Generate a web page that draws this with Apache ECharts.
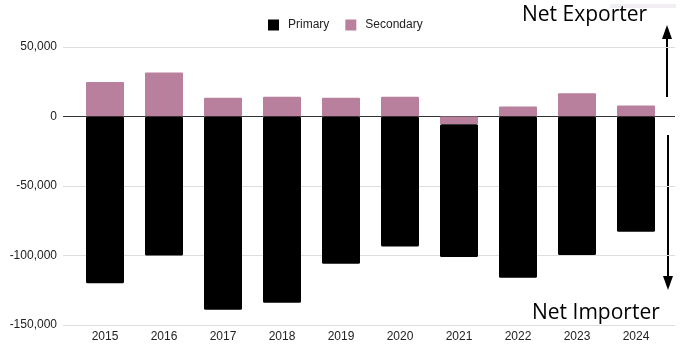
<!DOCTYPE html>
<html><head><meta charset="utf-8">
<script src="https://cdn.jsdelivr.net/npm/echarts@6/dist/echarts.min.js"></script>
<style>html,body{margin:0;padding:0;background:#fff}#c{width:684px;height:347px}</style>
</head><body><div id="c"></div>
<script>
const years = ['2015','2016','2017','2018','2019','2020','2021','2022','2023','2024'];
const primary = [-120000,-100000,-139000,-134000,-106000,-93500,-95500,-116000,-99700,-83000];
const secondary = [24800,31700,13500,14200,13500,14200,-5500,7200,16800,7900];
const yTicks = [-150000,-100000,-50000,0,50000];

const fmt = v => (v<0?'-':'') + Math.abs(v).toString().replace(/\B(?=(\d{3})+(?!\d))/g, ',');
const chart = echarts.init(document.getElementById('c'), null, {renderer:'canvas'});
const font = 'Liberation Sans, Arial, sans-serif';
chart.setOption({
  animation:false,
  textStyle:{fontFamily:font},
  legend:{
    data:['Primary','Secondary'], left:263, top:14, icon:'rect',
    itemWidth:11, itemHeight:11, itemGap:16,
    textStyle:{fontSize:12, color:'#222', fontFamily:font, padding:[0,0,0,4]}
  },
  grid:[
    {left:75.5, right:18.5, top:47, bottom:22},
    {left:63, right:9, top:47, bottom:22}
  ],
  xAxis:[
    {type:'category', data:years, gridIndex:0, axisLine:{show:false}, axisTick:{show:false},
     axisLabel:{fontSize:12, color:'#222', margin:6, fontFamily:font}},
    {type:'value', gridIndex:1, min:0, max:1, show:false}
  ],
  yAxis:[
    {type:'value', gridIndex:0, min:yTicks[0], max:yTicks[yTicks.length-1], interval:50000,
     axisLabel:{show:false}, splitLine:{show:false}, axisLine:{show:false}, axisTick:{show:false}},
    {type:'value', gridIndex:1, min:yTicks[0], max:yTicks[yTicks.length-1], interval:50000,
     axisLine:{show:false}, axisTick:{show:false},
     axisLabel:{fontSize:12, color:'#222', margin:6, formatter:fmt, fontFamily:font},
     splitLine:{show:true, lineStyle:{color:['#dddddd','#dddddd','#dddddd','#333333','#dddddd'], width:1}}}
  ],
  series:[
    {name:'Secondary', type:'bar', stack:'s', data:secondary, barWidth:38,
     itemStyle:{color:'#b8809c', borderRadius:1}, xAxisIndex:0, yAxisIndex:0, z:3},
    {name:'Primary', type:'bar', stack:'s', data:primary, barWidth:38,
     itemStyle:{color:'#000000', borderRadius:1.5}, xAxisIndex:0, yAxisIndex:0, z:3},
    {name:'_g', type:'line', data:[], xAxisIndex:1, yAxisIndex:1}
  ],
  graphic:[
    {type:'rect', shape:{x:610, y:4, width:66, height:4}, style:{fill:'#f1eff3'}},
    {type:'text', x:522, y:15, style:{text:'Net Exporter', font:'21px "Open Sans", sans-serif', fill:'#000', verticalAlign:'middle'}},
    {type:'text', x:532, y:313, style:{text:'Net Importer', font:'21px "Open Sans", sans-serif', fill:'#000', verticalAlign:'middle'}},
    {type:'line', shape:{x1:667, y1:97, x2:667, y2:36}, style:{stroke:'#000', lineWidth:2}},
    {type:'polygon', shape:{points:[[667,25],[662,39],[672,39]]}, style:{fill:'#000'}},
    {type:'line', shape:{x1:668, y1:135, x2:668, y2:278}, style:{stroke:'#000', lineWidth:2}},
    {type:'polygon', shape:{points:[[668,290],[663,276],[673,276]]}, style:{fill:'#000'}}
  ]
});
</script></body></html>
